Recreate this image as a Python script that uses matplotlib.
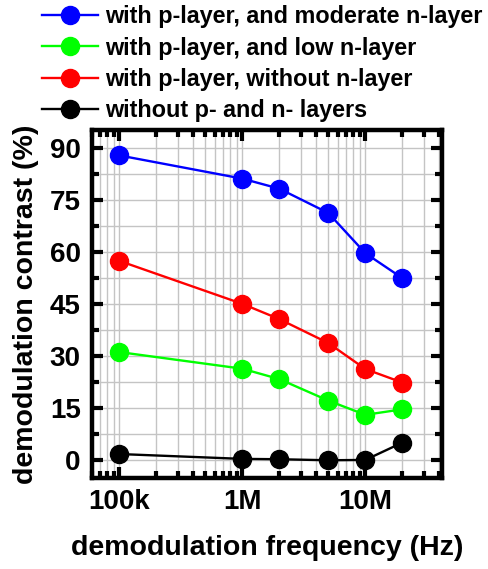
import numpy as np
import matplotlib.pyplot as plt
from matplotlib.ticker import FixedLocator, FuncFormatter, MultipleLocator

plt.rcParams['font.family'] = ['Liberation Sans', 'DejaVu Sans']
plt.rcParams['font.weight'] = 'bold'

freq = [1e5, 1e6, 2e6, 5e6, 1e7, 2e7]
moderate_n = [87.8, 81.1, 78.2, 71.2, 59.6, 52.4]
low_n = [31.1, 26.3, 23.3, 17.1, 13.0, 14.6]
without_n = [57.4, 45.0, 40.6, 33.7, 26.2, 22.3]
without_pn = [1.7, 0.3, 0.2, -0.1, 0.0, 5.0]

series = [
    ("with p-layer, and moderate n-layer", moderate_n, "#0000ff"),
    ("with p-layer, and low n-layer", low_n, "#00ff00"),
    ("with p-layer, without n-layer", without_n, "#ff0000"),
    ("without p- and n- layers", without_pn, "#000000"),
]

fig = plt.figure(figsize=(4.89, 5.69), dpi=100)
ax = fig.add_axes([0.188, 0.160, 0.716, 0.612])

handles = []
for label, vals, col in series:
    h, = ax.plot(freq, vals, '-o', color=col, lw=1.7, ms=13, label=label, zorder=3)
    handles.append(h)

ax.set_xscale('log')
ax.set_xlim(6e4, 4.2e7)
ax.set_ylim(-5.2, 95.2)

ax.xaxis.set_major_locator(FixedLocator([1e5, 1e6, 1e7]))
ax.xaxis.set_major_formatter(FuncFormatter(lambda v, p: {1e5: '100k', 1e6: '1M', 1e7: '10M'}.get(v, '')))
minors = [m * 10**e for e in range(4, 8) for m in range(2, 10)]
ax.xaxis.set_minor_locator(FixedLocator(minors))
ax.xaxis.set_minor_formatter(FuncFormatter(lambda v, p: ''))
ax.yaxis.set_major_locator(MultipleLocator(15))
ax.yaxis.set_minor_locator(MultipleLocator(7.5))

ax.grid(True, which='both', color='#c4c4c4', lw=1.0, zorder=0)
ax.set_axisbelow(True)

for s in ax.spines.values():
    s.set_linewidth(3.2)
ax.tick_params(which='both', direction='in', top=True, right=True, width=3, labelsize=20, pad=8)
ax.tick_params(which='major', length=8)
ax.tick_params(which='minor', length=5)
for t in ax.get_xticklabels() + ax.get_yticklabels():
    t.set_fontweight('bold')

ax.set_xlabel('demodulation frequency (Hz)', fontsize=20.5, fontweight='bold', labelpad=14)
ax.set_ylabel('demodulation contrast (%)', fontsize=20.5, fontweight='bold', labelpad=8)

fig.legend(handles=handles, loc='upper left', bbox_to_anchor=(0.086, 0.991), frameon=False,
           prop={'size': 16.8, 'weight': 'bold'}, handlelength=2.4, handletextpad=0.3,
           labelspacing=0.36, borderaxespad=0, borderpad=0)

fig.savefig('out.png', dpi=100)
